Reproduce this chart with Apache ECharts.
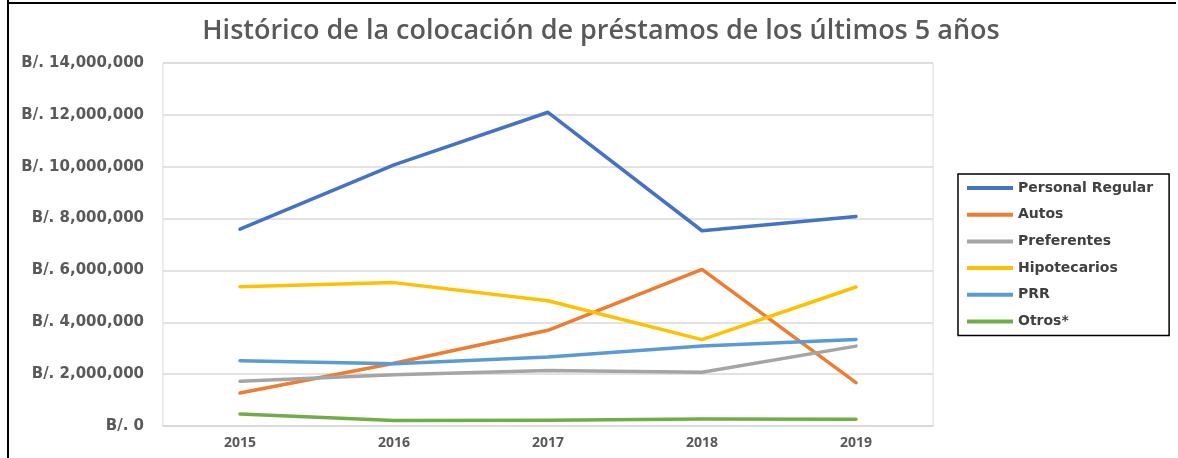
<!DOCTYPE html>
<html>
<head>
<meta charset="utf-8">
<script src="https://cdn.jsdelivr.net/npm/echarts@6/dist/echarts.min.js"></script>
<style>
html,body{margin:0;padding:0;background:#fff;}
#c{width:1178px;height:458px;}
</style>
</head>
<body>
<div id="c"></div>
<script>
const years = ['2015','2016','2017','2018','2019'];
const personalRegular = [7590000, 10070000, 12100000, 7530000, 8080000];
const autos = [1270000, 2420000, 3690000, 6040000, 1670000];
const preferentes = [1730000, 1980000, 2140000, 2070000, 3080000];
const hipotecarios = [5370000, 5530000, 4830000, 3330000, 5360000];
const prr = [2520000, 2400000, 2660000, 3090000, 3340000];
const otros = [460000, 210000, 220000, 270000, 260000];
const yTicks = [0, 2000000, 4000000, 6000000, 8000000, 10000000, 12000000, 14000000];

const seriesDefs = [
  ['Personal Regular', personalRegular, '#4472C4'],
  ['Autos', autos, '#ED7D31'],
  ['Preferentes', preferentes, '#A5A5A5'],
  ['Hipotecarios', hipotecarios, '#FFC000'],
  ['PRR', prr, '#5B9BD5'],
  ['Otros*', otros, '#70AD47']
];

function fmt(v){
  if (v === 0) return 'B/. 0';
  return 'B/. ' + v.toLocaleString('en-US');
}

const chart = echarts.init(document.getElementById('c'), null, {renderer:'canvas'});
chart.setOption({
  backgroundColor:'#ffffff',
  animation:false,
  title:{
    text:'Histórico de la colocación de préstamos de los últimos 5 años',
    left:'596', top:13, textAlign:'center',
    textStyle:{fontFamily:'Open Sans', fontWeight:600, fontSize:27, color:'#595959'}
  },
  graphic:[
    {type:'line', shape:{x1:8, y1:0, x2:8, y2:458}, style:{stroke:'#000', lineWidth:2}},
    {type:'line', shape:{x1:7, y1:3, x2:1176, y2:3}, style:{stroke:'#000', lineWidth:2}}
  ],
  legend:{
    orient:'vertical', left:958, top:174,
    padding:[7,16,7,9],
    borderColor:'#000', borderWidth:1.5,
    icon:'rect', itemWidth:46, itemHeight:4, itemGap:12.7, itemTextGap:5,
    textStyle:{fontFamily:'DejaVu Sans', fontWeight:'bold', fontSize:14, color:'#404040', lineHeight:14},
    data: seriesDefs.map(d=>d[0])
  },
  grid:{left:163, top:63, width:770, height:363, show:true, borderColor:'#D9D9D9', borderWidth:1, containLabel:false},
  xAxis:{
    type:'category', data:years, boundaryGap:true,
    axisLine:{show:true, lineStyle:{color:'#D9D9D9', width:1.5}},
    axisTick:{show:false},
    axisLabel:{margin:10, fontFamily:'Open Sans', fontWeight:'bold', fontSize:14, color:'#595959'}
  },
  yAxis:{
    type:'value', min:0, max:14000000, interval:2000000,
    axisLine:{show:false}, axisTick:{show:false},
    splitLine:{lineStyle:{color:'#D9D9D9', width:1.5}},
    axisLabel:{margin:19, fontFamily:'DejaVu Sans', fontWeight:'bold', fontSize:15, color:'#595959',
      formatter:function(v){ return yTicks.indexOf(v) >= 0 ? fmt(v) : ''; }}
  },
  series: seriesDefs.map(d=>({
    name:d[0], type:'line', data:d[1], symbol:'none', smooth:false,
    itemStyle:{color:d[2]},
    lineStyle:{color:d[2], width:3.5, cap:'round', join:'round'}
  }))
});
</script>
</body>
</html>
